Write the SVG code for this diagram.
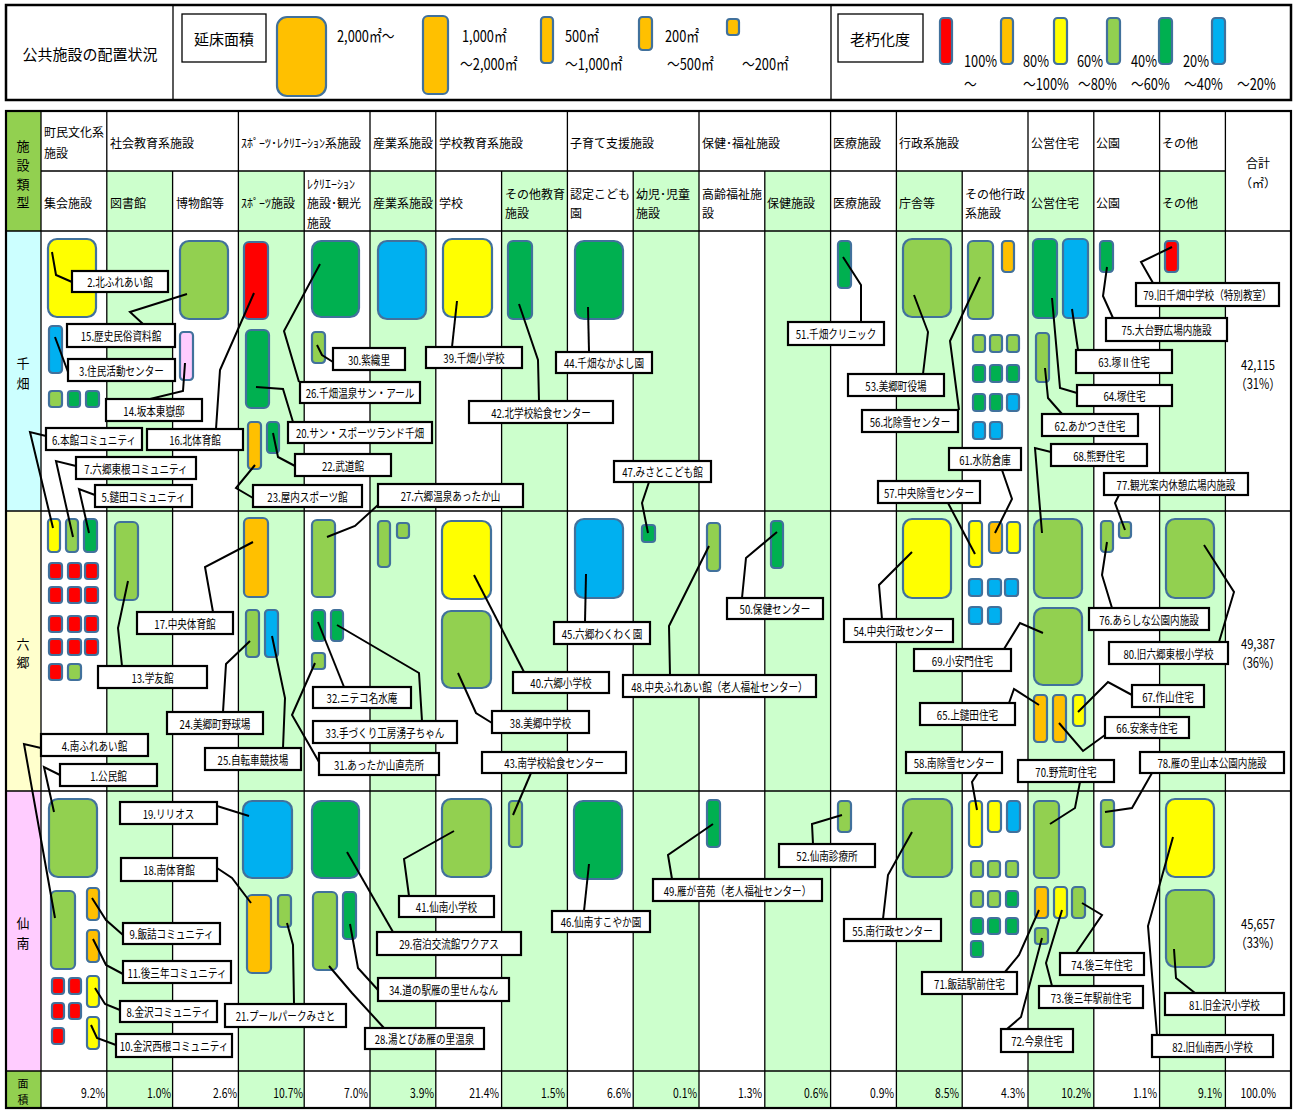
<svg xmlns="http://www.w3.org/2000/svg" width="1295" height="1111" viewBox="0 0 1295 1111">
<style>
text{font-family:"Noto Sans CJK JP","Noto Sans",sans-serif;fill:#000}
.t{font-size:12px;text-anchor:middle;dominant-baseline:central;transform:scaleX(.8);transform-box:fill-box;transform-origin:center}
.h{font-size:12px;dominant-baseline:central}
.hc{font-size:12px;text-anchor:middle;dominant-baseline:central}
.big{font-size:15px;text-anchor:middle;dominant-baseline:central}
.n{font-size:16px;dominant-baseline:central;transform:scaleX(.8);transform-box:fill-box;transform-origin:left center}
.pc{font-size:13px;text-anchor:end;dominant-baseline:central;transform:scaleX(.8);transform-box:fill-box;transform-origin:right center}
.tot{font-size:14px;text-anchor:middle;dominant-baseline:central;transform:scaleX(.8);transform-box:fill-box;transform-origin:center}
.half{font-feature-settings:"halt"}
.vt{font-size:13px;text-anchor:middle;dominant-baseline:central}
.blk{stroke:#41719c;stroke-width:2.2}
.r{fill:#ff0000}.o{fill:#ffc000}.y{fill:#ffff00}.lg{fill:#92d050}.dg{fill:#00b050}.b{fill:#00b0f0}.p{fill:#ffccff}
.box{fill:#fff;stroke:#000;stroke-width:2.2}
.thin{fill:#fff;stroke:#000;stroke-width:1.3}
.gl{stroke:#000;stroke-width:1.3;fill:none}
.gc{fill:#ccffcc}
#connectors polyline{fill:none;stroke:#000;stroke-width:2;stroke-linejoin:miter}
</style>

<!-- legend strip -->
<g id="legend">
<rect x="6" y="5" width="1285" height="95" fill="#fff" stroke="#000" stroke-width="2.5"/>
<line class="gl" x1="173" y1="5" x2="173" y2="100"/>
<line class="gl" x1="831" y1="5" x2="831" y2="100"/>
<text class="big" x="90" y="53">公共施設の配置状況</text>
<rect class="thin" x="182" y="14" width="84" height="48"/>
<text class="big" x="224" y="38">延床面積</text>
<rect class="o blk" x="277" y="17" width="49" height="79" rx="10"/>
<text class="n" x="337" y="35">2,000㎡～</text>
<rect class="o blk" x="423" y="16" width="25" height="78" rx="5"/>
<text class="n" x="462" y="35">1,000㎡</text>
<text class="n" x="460" y="63">～2,000㎡</text>
<rect class="o blk" x="541" y="17" width="12" height="46" rx="3.5"/>
<text class="n" x="565" y="35">500㎡</text>
<text class="n" x="565" y="63">～1,000㎡</text>
<rect class="o blk" x="639" y="17" width="13" height="33" rx="3.5"/>
<text class="n" x="665" y="35">200㎡</text>
<text class="n" x="667" y="63">～500㎡</text>
<rect class="o blk" x="727" y="19" width="12" height="16" rx="3"/>
<text class="n" x="742" y="63">～200㎡</text>
<rect class="thin" x="838" y="14" width="85" height="48"/>
<text class="big" x="880" y="38">老朽化度</text>
<rect class="r blk" x="940" y="18" width="12" height="46" rx="3.5"/>
<text class="n" x="964" y="60">100%</text>
<text class="n" x="964" y="83">～</text>
<rect class="o blk" x="1001" y="18" width="12" height="46" rx="3.5"/>
<text class="n" x="1023" y="60">80%</text>
<text class="n" x="1023" y="83">～100%</text>
<rect class="y blk" x="1054" y="18" width="13" height="46" rx="3.5"/>
<text class="n" x="1077" y="60">60%</text>
<text class="n" x="1078" y="83">～80%</text>
<rect class="lg blk" x="1107" y="18" width="13" height="46" rx="3.5"/>
<text class="n" x="1131" y="60">40%</text>
<text class="n" x="1131" y="83">～60%</text>
<rect class="dg blk" x="1159" y="18" width="13" height="46" rx="3.5"/>
<text class="n" x="1183" y="60">20%</text>
<text class="n" x="1184" y="83">～40%</text>
<rect class="b blk" x="1212" y="18" width="13" height="46" rx="3.5"/>
<text class="n" x="1237" y="83">～20%</text>
</g>

<!-- table body: backgrounds, grid, headings -->
<g id="table">
<rect x="6" y="111" width="1285" height="997" fill="#fff"/>
<rect class="gc" x="106.8" y="171" width="65.8" height="937"/>
<rect class="gc" x="238.4" y="171" width="65.8" height="937"/>
<rect class="gc" x="370" y="171" width="65.8" height="937"/>
<rect class="gc" x="501.6" y="171" width="65.8" height="937"/>
<rect class="gc" x="633.2" y="171" width="65.8" height="937"/>
<rect class="gc" x="764.8" y="171" width="65.8" height="937"/>
<rect class="gc" x="896.4" y="171" width="65.8" height="937"/>
<rect class="gc" x="1028" y="171" width="65.8" height="937"/>
<rect class="gc" x="1159.6" y="171" width="65.8" height="937"/>
<rect x="6" y="111" width="35" height="120" fill="#92d050"/>
<rect x="6" y="231" width="35" height="280" fill="#ccffff"/>
<rect x="6" y="511" width="35" height="280" fill="#ffffcc"/>
<rect x="6" y="791" width="35" height="280" fill="#ffccff"/>
<rect x="6" y="1071" width="35" height="37" fill="#92d050"/>
<path class="gl" d="M41 171H1225.4M6 231H1291M6 511H1291M6 791H1291M6 1071H1291
M41 111V1108M106.8 111V1108M238.4 111V1108M370 111V1108M435.8 111V1108M567.4 111V1108M699 111V1108M830.6 111V1108M896.4 111V1108M1028 111V1108M1093.8 111V1108M1159.6 111V1108M1225.4 111V1108
M172.6 171V1108M304.2 171V1108M501.6 171V1108M633.2 171V1108M764.8 171V1108M962.2 171V1108"/>
<rect x="6" y="111" width="1285" height="997" fill="none" stroke="#000" stroke-width="2.2"/>

<text class="vt" x="23" y="145">施</text>
<text class="vt" x="23" y="164">設</text>
<text class="vt" x="23" y="183">類</text>
<text class="vt" x="23" y="201">型</text>
<text class="vt" x="23" y="362">千</text>
<text class="vt" x="23" y="382">畑</text>
<text class="vt" x="23" y="643">六</text>
<text class="vt" x="23" y="661">郷</text>
<text class="vt" x="23" y="922">仙</text>
<text class="vt" x="23" y="942">南</text>
<text class="vt" x="23" y="1083" style="font-size:11px">面</text>
<text class="vt" x="23" y="1099" style="font-size:11px">積</text>

<text class="h" x="44" y="131">町民文化系</text>
<text class="h" x="44" y="152">施設</text>
<text class="h" x="110" y="142">社会教育系施設</text>
<text class="h" x="241" y="142">ｽﾎﾟｰﾂ･ﾚｸﾘｴｰｼｮﾝ系施設</text>
<text class="h" x="373" y="142">産業系施設</text>
<text class="h" x="439" y="142">学校教育系施設</text>
<text class="h" x="570" y="142">子育て支援施設</text>
<text class="h" x="702" y="142">保健･福祉施設</text>
<text class="h" x="833" y="142">医療施設</text>
<text class="h" x="899" y="142">行政系施設</text>
<text class="h" x="1031" y="142">公営住宅</text>
<text class="h" x="1096" y="142">公園</text>
<text class="h" x="1162" y="142">その他</text>
<text class="hc" x="1258" y="162">合計</text>
<text class="hc half" x="1258" y="182">（㎡）</text>

<text class="h" x="44" y="202">集会施設</text>
<text class="h" x="110" y="202">図書館</text>
<text class="h" x="176" y="202">博物館等</text>
<text class="h" x="241" y="202">ｽﾎﾟｰﾂ施設</text>
<text class="h" x="307" y="183">ﾚｸﾘｴｰｼｮﾝ</text>
<text class="h" x="307" y="202">施設･観光</text>
<text class="h" x="307" y="222">施設</text>
<text class="h" x="373" y="202">産業系施設</text>
<text class="h" x="439" y="202">学校</text>
<text class="h" x="505" y="193">その他教育</text>
<text class="h" x="505" y="212">施設</text>
<text class="h" x="570" y="193">認定こども</text>
<text class="h" x="570" y="212">園</text>
<text class="h" x="636" y="193">幼児･児童</text>
<text class="h" x="636" y="212">施設</text>
<text class="h" x="702" y="193">高齢福祉施</text>
<text class="h" x="702" y="212">設</text>
<text class="h" x="767" y="202">保健施設</text>
<text class="h" x="833" y="202">医療施設</text>
<text class="h" x="899" y="202">庁舎等</text>
<text class="h" x="965" y="193">その他行政</text>
<text class="h" x="965" y="212">系施設</text>
<text class="h" x="1031" y="202">公営住宅</text>
<text class="h" x="1096" y="202">公園</text>
<text class="h" x="1162" y="202">その他</text>

<text class="tot" x="1258" y="364">42,115</text>
<text class="tot half" x="1258" y="383">（31%）</text>
<text class="tot" x="1258" y="643">49,387</text>
<text class="tot half" x="1258" y="662">（36%）</text>
<text class="tot" x="1258" y="923">45,657</text>
<text class="tot half" x="1258" y="942">（33%）</text>

<text class="pc" x="105" y="1092">9.2%</text>
<text class="pc" x="171" y="1092">1.0%</text>
<text class="pc" x="237" y="1092">2.6%</text>
<text class="pc" x="303" y="1092">10.7%</text>
<text class="pc" x="368" y="1092">7.0%</text>
<text class="pc" x="434" y="1092">3.9%</text>
<text class="pc" x="499" y="1092">21.4%</text>
<text class="pc" x="565" y="1092">1.5%</text>
<text class="pc" x="631" y="1092">6.6%</text>
<text class="pc" x="697" y="1092">0.1%</text>
<text class="pc" x="762" y="1092">1.3%</text>
<text class="pc" x="828" y="1092">0.6%</text>
<text class="pc" x="894" y="1092">0.9%</text>
<text class="pc" x="959" y="1092">8.5%</text>
<text class="pc" x="1025" y="1092">4.3%</text>
<text class="pc" x="1091" y="1092">10.2%</text>
<text class="pc" x="1157" y="1092">1.1%</text>
<text class="pc" x="1222" y="1092">9.1%</text>
<text class="pc" x="1276" y="1092">100.0%</text>
</g>

<!-- facilities without a callout -->
<g id="unlabeled-blocks">
<rect class="lg blk" x="49" y="391" width="13" height="16" rx="3"/>
<rect class="dg blk" x="68" y="391" width="12" height="16" rx="3"/>
<rect class="dg blk" x="86" y="391" width="13" height="16" rx="3"/>
<rect class="b blk" x="378" y="241" width="48" height="78" rx="9"/>
<rect class="o blk" x="1002" y="241" width="12" height="31" rx="3.5"/>
<rect class="lg blk" x="973" y="335" width="12" height="17" rx="3"/>
<rect class="lg blk" x="990" y="335" width="12" height="17" rx="3"/>
<rect class="lg blk" x="1007" y="335" width="12" height="17" rx="3"/>
<rect class="dg blk" x="973" y="365" width="12" height="17" rx="3"/>
<rect class="dg blk" x="990" y="365" width="12" height="17" rx="3"/>
<rect class="dg blk" x="1007" y="365" width="12" height="17" rx="3"/>
<rect class="dg blk" x="973" y="394" width="12" height="17" rx="3"/>
<rect class="dg blk" x="990" y="394" width="12" height="17" rx="3"/>
<rect class="b blk" x="1007" y="394" width="12" height="17" rx="3"/>
<rect class="b blk" x="973" y="422" width="12" height="17" rx="3"/>
<rect class="b blk" x="990" y="422" width="12" height="17" rx="3"/>

<rect class="r blk" x="49" y="563" width="13" height="16" rx="3"/>
<rect class="r blk" x="68" y="563" width="13" height="16" rx="3"/>
<rect class="r blk" x="85" y="563" width="13" height="16" rx="3"/>
<rect class="r blk" x="49" y="587" width="13" height="16" rx="3"/>
<rect class="r blk" x="68" y="587" width="13" height="16" rx="3"/>
<rect class="r blk" x="85" y="587" width="13" height="16" rx="3"/>
<rect class="r blk" x="49" y="616" width="13" height="16" rx="3"/>
<rect class="r blk" x="68" y="616" width="13" height="16" rx="3"/>
<rect class="r blk" x="85" y="616" width="13" height="16" rx="3"/>
<rect class="r blk" x="49" y="639" width="13" height="16" rx="3"/>
<rect class="r blk" x="68" y="639" width="13" height="16" rx="3"/>
<rect class="r blk" x="85" y="639" width="13" height="16" rx="3"/>
<rect class="r blk" x="49" y="664" width="13" height="16" rx="3"/>
<rect class="lg blk" x="68" y="664" width="13" height="16" rx="3"/>
<rect class="lg blk" x="378" y="521" width="12" height="46" rx="3.5"/>
<rect class="lg blk" x="397" y="523" width="12" height="15" rx="3"/>
<rect class="y blk" x="1007" y="522" width="13" height="31" rx="3.5"/>
<rect class="b blk" x="969" y="579" width="13" height="17" rx="3"/>
<rect class="b blk" x="988" y="579" width="13" height="17" rx="3"/>
<rect class="b blk" x="1005" y="579" width="13" height="17" rx="3"/>
<rect class="b blk" x="969" y="607" width="13" height="17" rx="3"/>
<rect class="b blk" x="988" y="607" width="13" height="17" rx="3"/>

<rect class="r blk" x="52" y="978" width="12" height="16" rx="3"/>
<rect class="r blk" x="69" y="978" width="12" height="16" rx="3"/>
<rect class="r blk" x="52" y="1003" width="12" height="16" rx="3"/>
<rect class="r blk" x="69" y="1003" width="12" height="16" rx="3"/>
<rect class="r blk" x="52" y="1028" width="12" height="16" rx="3"/>
<rect class="y blk" x="988" y="801" width="13" height="31" rx="3.5"/>
<rect class="b blk" x="1007" y="801" width="13" height="31" rx="3.5"/>
<rect class="lg blk" x="971" y="861" width="12" height="16" rx="3"/>
<rect class="lg blk" x="988" y="861" width="12" height="16" rx="3"/>
<rect class="lg blk" x="1006" y="861" width="12" height="16" rx="3"/>
<rect class="lg blk" x="971" y="891" width="12" height="16" rx="3"/>
<rect class="lg blk" x="988" y="891" width="12" height="16" rx="3"/>
<rect class="dg blk" x="1006" y="891" width="12" height="16" rx="3"/>
<rect class="dg blk" x="971" y="918" width="12" height="16" rx="3"/>
<rect class="dg blk" x="988" y="918" width="12" height="16" rx="3"/>
<rect class="dg blk" x="1006" y="918" width="12" height="16" rx="3"/>
<rect class="dg blk" x="971" y="941" width="12" height="16" rx="3"/>
</g>

<!-- facility nodes: block + callout box -->
<g id="nodes">
<g id="n01"><rect class="lg blk" x="49" y="799" width="48" height="78" rx="9"/><rect class="box" x="60" y="764" width="97" height="22"/><text class="t" x="108.5" y="775">1.公民館</text></g>
<g id="n02"><rect class="y blk" x="48" y="239" width="48" height="78" rx="9"/><rect class="box" x="72" y="271" width="96" height="21"/><text class="t" x="120" y="281.5">2.北ふれあい館</text></g>
<g id="n03"><rect class="b blk" x="49" y="326" width="13" height="47" rx="3.5"/><rect class="box" x="68" y="359" width="107" height="22"/><text class="t" x="121.5" y="370">3.住民活動センター</text></g>
<g id="n04"><rect class="lg blk" x="51" y="891" width="24" height="78" rx="5"/><rect class="box" x="41" y="734" width="107" height="22"/><text class="t" x="94.5" y="745">4.南ふれあい館</text></g>
<g id="n05"><rect class="dg blk" x="84" y="519" width="13" height="33" rx="3.5"/><rect class="box" x="95" y="485" width="97" height="22"/><text class="t" x="143.5" y="496">5.鑓田コミュニティ</text></g>
<g id="n06"><rect class="y blk" x="48" y="519" width="12" height="33" rx="3.5"/><rect class="box" x="46" y="428" width="96" height="22"/><text class="t" x="94" y="439">6.本館コミュニティ</text></g>
<g id="n07"><rect class="lg blk" x="66" y="519" width="12" height="33" rx="3.5"/><rect class="box" x="76" y="457" width="120" height="22"/><text class="t" x="136" y="468">7.六郷東根コミュニティ</text></g>
<g id="n08"><rect class="y blk" x="87" y="976" width="12" height="31" rx="3.5"/><rect class="box" x="120" y="1001" width="97" height="21"/><text class="t" x="168.5" y="1011.5">8.金沢コミュニティ</text></g>
<g id="n09"><rect class="o blk" x="87" y="888" width="12" height="32" rx="3.5"/><rect class="box" x="123" y="923" width="97" height="21"/><text class="t" x="171.5" y="933.5">9.飯詰コミュニティ</text></g>
<g id="n10"><rect class="y blk" x="87" y="1017" width="12" height="32" rx="3.5"/><rect class="box" x="116" y="1034" width="116" height="23"/><text class="t" x="174" y="1045.5">10.金沢西根コミュニティ</text></g>
<g id="n11"><rect class="o blk" x="87" y="930" width="12" height="32" rx="3.5"/><rect class="box" x="123" y="961" width="108" height="22"/><text class="t" x="177" y="972">11.後三年コミュニティ</text></g>
<g id="n13"><rect class="lg blk" x="115" y="522" width="23" height="78" rx="5"/><rect class="box" x="98" y="666" width="109" height="22"/><text class="t" x="152.5" y="677">13.学友館</text></g>
<g id="n14"><rect class="p blk" x="180" y="332" width="13" height="48" rx="3.5"/><rect class="box" x="106" y="399" width="96" height="22"/><text class="t" x="154" y="410">14.坂本東嶽邸</text></g>
<g id="n15"><rect class="lg blk" x="180" y="241" width="48" height="78" rx="9"/><rect class="box" x="67" y="324" width="108" height="23"/><text class="t" x="121" y="335.5">15.歴史民俗資料館</text></g>
<g id="n16"><rect class="r blk" x="244" y="242" width="24" height="77" rx="5"/><rect class="box" x="147" y="429" width="96" height="21"/><text class="t" x="195" y="439.5">16.北体育館</text></g>
<g id="n17"><rect class="o blk" x="244" y="518" width="24" height="79" rx="5"/><rect class="box" x="137" y="612" width="96" height="22"/><text class="t" x="185" y="623">17.中央体育館</text></g>
<g id="n18"><rect class="o blk" x="247" y="895" width="24" height="78" rx="5"/><rect class="box" x="121" y="858" width="96" height="23"/><text class="t" x="169" y="869.5">18.南体育館</text></g>
<g id="n19"><rect class="b blk" x="243" y="801" width="49" height="77" rx="9"/><rect class="box" x="120" y="802" width="97" height="22"/><text class="t" x="168.5" y="813">19.リリオス</text></g>
<g id="n20"><rect class="dg blk" x="246" y="330" width="23" height="78" rx="5"/><rect class="box" x="288" y="422" width="144" height="21"/><text class="t" x="360" y="432.5">20.サン・スポーツランド千畑</text></g>
<g id="n21"><rect class="lg blk" x="278" y="895" width="13" height="32" rx="3.5"/><rect class="box" x="225" y="1004" width="121" height="23"/><text class="t" x="285.5" y="1015.5">21.プールパークみさと</text></g>
<g id="n22"><rect class="dg blk" x="267" y="422" width="12" height="31" rx="3.5"/><rect class="box" x="295" y="454" width="96" height="22"/><text class="t" x="343" y="465">22.武道館</text></g>
<g id="n23"><rect class="o blk" x="248" y="422" width="13" height="47" rx="3.5"/><rect class="box" x="253" y="485" width="109" height="22"/><text class="t" x="307.5" y="496">23.屋内スポーツ館</text></g>
<g id="n24"><rect class="lg blk" x="246" y="610" width="13" height="47" rx="3.5"/><rect class="box" x="167" y="712" width="96" height="22"/><text class="t" x="215" y="723">24.美郷町野球場</text></g>
<g id="n25"><rect class="b blk" x="265" y="610" width="13" height="47" rx="3.5"/><rect class="box" x="205" y="748" width="96" height="22"/><text class="t" x="253" y="759">25.自転車競技場</text></g>
<g id="n26"><rect class="dg blk" x="312" y="241" width="47" height="76" rx="9"/><rect class="box" x="300" y="382" width="120" height="21"/><text class="t" x="360" y="392.5">26.千畑温泉サン・アール</text></g>
<g id="n27"><rect class="lg blk" x="312" y="520" width="23" height="77" rx="5"/><rect class="box" x="378" y="484" width="145" height="23"/><text class="t" x="450.5" y="495.5">27.六郷温泉あったか山</text></g>
<g id="n28"><rect class="lg blk" x="313" y="892" width="24" height="78" rx="5"/><rect class="box" x="365" y="1028" width="119" height="21"/><text class="t" x="424.5" y="1038.5">28.湯とぴあ雁の里温泉</text></g>
<g id="n29"><rect class="dg blk" x="312" y="801" width="47" height="77" rx="9"/><rect class="box" x="377" y="932" width="144" height="23"/><text class="t" x="449" y="943.5">29.宿泊交流館ワクアス</text></g>
<g id="n30"><rect class="lg blk" x="312" y="332" width="13" height="31" rx="3.5"/><rect class="box" x="333" y="348" width="72" height="22"/><text class="t" x="369" y="359">30.紫織里</text></g>
<g id="n31"><rect class="lg blk" x="312" y="653" width="13" height="16" rx="3"/><rect class="box" x="319" y="753" width="120" height="22"/><text class="t" x="379" y="764">31.あったか山直売所</text></g>
<g id="n32"><rect class="dg blk" x="312" y="610" width="13" height="31" rx="3.5"/><rect class="box" x="313" y="687" width="98" height="21"/><text class="t" x="362" y="697.5">32.ニテコ名水庵</text></g>
<g id="n33"><rect class="dg blk" x="331" y="610" width="12" height="31" rx="3.5"/><rect class="box" x="313" y="721" width="144" height="22"/><text class="t" x="385" y="732">33.手づくり工房湧子ちゃん</text></g>
<g id="n34"><rect class="dg blk" x="343" y="892" width="13" height="47" rx="3.5"/><rect class="box" x="378" y="978" width="131" height="23"/><text class="t" x="443.5" y="989.5">34.道の駅雁の里せんなん</text></g>
<g id="n38"><rect class="lg blk" x="442" y="611" width="49" height="77" rx="9"/><rect class="box" x="492" y="711" width="97" height="22"/><text class="t" x="540.5" y="722">38.美郷中学校</text></g>
<g id="n39"><rect class="y blk" x="443" y="239" width="49" height="78" rx="9"/><rect class="box" x="426" y="347" width="96" height="21"/><text class="t" x="474" y="357.5">39.千畑小学校</text></g>
<g id="n40"><rect class="y blk" x="442" y="521" width="49" height="78" rx="9"/><rect class="box" x="513" y="672" width="96" height="21"/><text class="t" x="561" y="682.5">40.六郷小学校</text></g>
<g id="n41"><rect class="lg blk" x="442" y="799" width="49" height="78" rx="9"/><rect class="box" x="399" y="896" width="95" height="21"/><text class="t" x="446.5" y="906.5">41.仙南小学校</text></g>
<g id="n42"><rect class="dg blk" x="508" y="241" width="24" height="78" rx="5"/><rect class="box" x="469" y="401" width="144" height="22"/><text class="t" x="541" y="412">42.北学校給食センター</text></g>
<g id="n43"><rect class="lg blk" x="509" y="801" width="13" height="46" rx="3.5"/><rect class="box" x="482" y="752" width="144" height="21"/><text class="t" x="554" y="762.5">43.南学校給食センター</text></g>
<g id="n44"><rect class="dg blk" x="575" y="241" width="48" height="78" rx="9"/><rect class="box" x="556" y="352" width="96" height="21"/><text class="t" x="604" y="362.5">44.千畑なかよし園</text></g>
<g id="n45"><rect class="b blk" x="575" y="519" width="48" height="79" rx="9"/><rect class="box" x="554" y="622" width="96" height="22"/><text class="t" x="602" y="633">45.六郷わくわく園</text></g>
<g id="n46"><rect class="dg blk" x="574" y="801" width="48" height="78" rx="9"/><rect class="box" x="552" y="911" width="98" height="21"/><text class="t" x="601" y="921.5">46.仙南すこやか園</text></g>
<g id="n47"><rect class="dg blk" x="642" y="525" width="13" height="17" rx="3"/><rect class="box" x="614" y="461" width="97" height="21"/><text class="t" x="662.5" y="471.5">47.みさとこども館</text></g>
<g id="n48"><rect class="lg blk" x="707" y="523" width="13" height="48" rx="3.5"/><rect class="box" x="623" y="675" width="193" height="22"/><text class="t" x="719.5" y="686">48.中央ふれあい館（老人福祉センター）</text></g>
<g id="n49"><rect class="dg blk" x="707" y="800" width="13" height="47" rx="3.5"/><rect class="box" x="653" y="879" width="169" height="22"/><text class="t" x="737.5" y="890">49.雁が音苑（老人福祉センター）</text></g>
<g id="n50"><rect class="dg blk" x="771" y="521" width="12" height="47" rx="3.5"/><rect class="box" x="727" y="598" width="96" height="21"/><text class="t" x="775" y="608.5">50.保健センター</text></g>
<g id="n51"><rect class="dg blk" x="838" y="241" width="13" height="47" rx="3.5"/><rect class="box" x="788" y="322" width="96" height="23"/><text class="t" x="836" y="333.5">51.千畑クリニック</text></g>
<g id="n52"><rect class="lg blk" x="838" y="801" width="13" height="31" rx="3.5"/><rect class="box" x="779" y="844" width="96" height="23"/><text class="t" x="827" y="855.5">52.仙南診療所</text></g>
<g id="n53"><rect class="lg blk" x="903" y="239" width="48" height="78" rx="9"/><rect class="box" x="848" y="374" width="96" height="22"/><text class="t" x="896" y="385">53.美郷町役場</text></g>
<g id="n54"><rect class="y blk" x="903" y="519" width="48" height="79" rx="9"/><rect class="box" x="844" y="619" width="109" height="23"/><text class="t" x="898.5" y="630.5">54.中央行政センター</text></g>
<g id="n55"><rect class="lg blk" x="903" y="799" width="49" height="78" rx="9"/><rect class="box" x="844" y="919" width="97" height="22"/><text class="t" x="892.5" y="930">55.南行政センター</text></g>
<g id="n56"><rect class="lg blk" x="968" y="241" width="25" height="78" rx="5"/><rect class="box" x="862" y="410" width="96" height="22"/><text class="t" x="910" y="421">56.北除雪センター</text></g>
<g id="n57"><rect class="y blk" x="969" y="521" width="13" height="46" rx="3.5"/><rect class="box" x="878" y="481" width="102" height="22"/><text class="t" x="929" y="492">57.中央除雪センター</text></g>
<g id="n58"><rect class="y blk" x="969" y="801" width="13" height="46" rx="3.5"/><rect class="box" x="906" y="752" width="96" height="21"/><text class="t" x="954" y="762.5">58.南除雪センター</text></g>
<g id="n61"><rect class="o blk" x="989" y="522" width="13" height="31" rx="3.5"/><rect class="box" x="949" y="448" width="72" height="22"/><text class="t" x="985" y="459">61.水防倉庫</text></g>
<g id="n62"><rect class="lg blk" x="1036" y="333" width="13" height="49" rx="3.5"/><rect class="box" x="1042" y="414" width="96" height="22"/><text class="t" x="1090" y="425">62.あかつき住宅</text></g>
<g id="n63"><rect class="b blk" x="1063" y="239" width="25" height="79" rx="5"/><rect class="box" x="1076" y="350" width="96" height="23"/><text class="t" x="1124" y="361.5">63.塚Ⅱ住宅</text></g>
<g id="n64"><rect class="dg blk" x="1033" y="239" width="24" height="79" rx="5"/><rect class="box" x="1077" y="385" width="95" height="21"/><text class="t" x="1124.5" y="395.5">64.塚住宅</text></g>
<g id="n65"><rect class="o blk" x="1034" y="695" width="13" height="47" rx="3.5"/><rect class="box" x="920" y="703" width="95" height="22"/><text class="t" x="967.5" y="714">65.上鑓田住宅</text></g>
<g id="n66"><rect class="o blk" x="1053" y="695" width="13" height="47" rx="3.5"/><rect class="box" x="1105" y="717" width="84" height="21"/><text class="t" x="1147" y="727.5">66.安楽寺住宅</text></g>
<g id="n67"><rect class="y blk" x="1073" y="695" width="12" height="31" rx="3.5"/><rect class="box" x="1132" y="685" width="72" height="22"/><text class="t" x="1168" y="696">67.作山住宅</text></g>
<g id="n68"><rect class="lg blk" x="1034" y="519" width="48" height="79" rx="9"/><rect class="box" x="1051" y="444" width="96" height="22"/><text class="t" x="1099" y="455">68.熊野住宅</text></g>
<g id="n69"><rect class="lg blk" x="1034" y="608" width="48" height="77" rx="9"/><rect class="box" x="914" y="649" width="97" height="22"/><text class="t" x="962.5" y="660">69.小安門住宅</text></g>
<g id="n70"><rect class="lg blk" x="1034" y="801" width="25" height="77" rx="5"/><rect class="box" x="1018" y="760" width="96" height="22"/><text class="t" x="1066" y="771">70.野荒町住宅</text></g>
<g id="n71"><rect class="o blk" x="1035" y="887" width="13" height="31" rx="3.5"/><rect class="box" x="922" y="972" width="95" height="22"/><text class="t" x="969.5" y="983">71.飯詰駅前住宅</text></g>
<g id="n72"><rect class="lg blk" x="1035" y="928" width="13" height="16" rx="3"/><rect class="box" x="1001" y="1029" width="72" height="23"/><text class="t" x="1037" y="1040.5">72.今泉住宅</text></g>
<g id="n73"><rect class="y blk" x="1054" y="887" width="13" height="31" rx="3.5"/><rect class="box" x="1039" y="986" width="104" height="22"/><text class="t" x="1091" y="997">73.後三年駅前住宅</text></g>
<g id="n74"><rect class="lg blk" x="1072" y="887" width="13" height="31" rx="3.5"/><rect class="box" x="1060" y="953" width="84" height="22"/><text class="t" x="1102" y="964">74.後三年住宅</text></g>
<g id="n75"><rect class="dg blk" x="1100" y="241" width="13" height="31" rx="3.5"/><rect class="box" x="1106" y="318" width="121" height="23"/><text class="t" x="1166.5" y="329.5">75.大台野広場内施設</text></g>
<g id="n76"><rect class="lg blk" x="1101" y="521" width="12" height="31" rx="3.5"/><rect class="box" x="1089" y="608" width="120" height="22"/><text class="t" x="1149" y="619">76.あらしな公園内施設</text></g>
<g id="n77"><rect class="lg blk" x="1119" y="522" width="12" height="16" rx="3"/><rect class="box" x="1104" y="473" width="144" height="22"/><text class="t" x="1176" y="484">77.観光案内休憩広場内施設</text></g>
<g id="n78"><rect class="lg blk" x="1101" y="800" width="13" height="47" rx="3.5"/><rect class="box" x="1140" y="752" width="144" height="21"/><text class="t" x="1212" y="762.5">78.雁の里山本公園内施設</text></g>
<g id="n79"><rect class="r blk" x="1165" y="241" width="13" height="31" rx="3.5"/><rect class="box" x="1136" y="283" width="143" height="23"/><text class="t" x="1207.5" y="294.5">79.旧千畑中学校（特別教室）</text></g>
<g id="n80"><rect class="lg blk" x="1166" y="519" width="48" height="79" rx="9"/><rect class="box" x="1109" y="642" width="119" height="22"/><text class="t" x="1168.5" y="653">80.旧六郷東根小学校</text></g>
<g id="n81"><rect class="lg blk" x="1166" y="890" width="48" height="77" rx="9"/><rect class="box" x="1165" y="993" width="119" height="22"/><text class="t" x="1224.5" y="1004">81.旧金沢小学校</text></g>
<g id="n82"><rect class="y blk" x="1166" y="799" width="48" height="78" rx="9"/><rect class="box" x="1152" y="1035" width="121" height="22"/><text class="t" x="1212.5" y="1046">82.旧仙南西小学校</text></g>
</g>

<!-- callout leader lines -->
<g id="connectors">
<polyline points="54,812 44,767 60,775"/>
<polyline points="52,252 56,275 72,282"/>
<polyline points="55,337 68,372"/>
<polyline points="55,918 24,744 41,748"/>
<polyline points="89,533 79,489 95,495"/>
<polyline points="53,528 30,432 46,436"/>
<polyline points="73,537 56,461 76,466"/>
<polyline points="95,988 105,1004 120,1010"/>
<polyline points="92,898 106,920 123,935"/>
<polyline points="91,1025 97,1038 116,1045"/>
<polyline points="93,939 106,965 123,974"/>
<polyline points="128,581 118,628 122,666"/>
<polyline points="185,363 183,391 150,399"/>
<polyline points="187,294 130,312 143,324"/>
<polyline points="254,293 220,370 216,429"/>
<polyline points="253,542 205,567 213,612"/>
<polyline points="251,903 232,878 217,868"/>
<polyline points="249,816 217,806"/>
<polyline points="256,387 283,389 293,422"/>
<polyline points="287,923 293,945 294,1004"/>
<polyline points="273,433 278,457 295,466"/>
<polyline points="255,465 236,488 253,498"/>
<polyline points="250,641 226,664 223,712"/>
<polyline points="272,636 285,698 283,748"/>
<polyline points="320,264 284,331 299,382"/>
<polyline points="327,537 355,526 378,505"/>
<polyline points="329,966 352,993 384,1028"/>
<polyline points="347,852 393,932"/>
<polyline points="317,345 322,355 333,362"/>
<polyline points="315,663 292,715 319,762"/>
<polyline points="318,622 344,687"/>
<polyline points="337,625 419,673 422,721"/>
<polyline points="350,924 358,968 378,990"/>
<polyline points="458,673 476,713 492,723"/>
<polyline points="457,301 452,347"/>
<polyline points="474,575 524,672"/>
<polyline points="454,831 404,859 409,896"/>
<polyline points="519,304 538,360 539,401"/>
<polyline points="513,815 531,773"/>
<polyline points="588,307 589,352"/>
<polyline points="586,574 585,622"/>
<polyline points="589,864 584,911"/>
<polyline points="648,533 642,503 649,482"/>
<polyline points="709,546 669,626 670,675"/>
<polyline points="713,824 668,855 672,879"/>
<polyline points="777,532 746,558 742,598"/>
<polyline points="843,257 861,285 861,322"/>
<polyline points="842,815 812,824 813,844"/>
<polyline points="914,295 928,332 923,374"/>
<polyline points="912,552 879,585 882,619"/>
<polyline points="912,832 888,875 883,919"/>
<polyline points="980,277 950,341 959,410"/>
<polyline points="948,503 975,554"/>
<polyline points="978,773 972,782 977,810"/>
<polyline points="1002,470 1012,499 995,533"/>
<polyline points="1045,368 1048,398 1062,414"/>
<polyline points="1072,309 1078,350"/>
<polyline points="1052,298 1060,388 1077,393"/>
<polyline points="1039,705 1014,689 1009,703"/>
<polyline points="1059,723 1083,751 1105,735"/>
<polyline points="1078,712 1108,682 1132,695"/>
<polyline points="1042,533 1035,448 1051,452"/>
<polyline points="1043,633 1020,623 1004,649"/>
<polyline points="1050,824 1075,808 1080,782"/>
<polyline points="1039,910 1019,955 1005,972"/>
<polyline points="1042,938 1021,1017 1007,1029"/>
<polyline points="1062,910 1046,963 1052,986"/>
<polyline points="1082,903 1102,915 1076,953"/>
<polyline points="1107,267 1103,296 1113,318"/>
<polyline points="1107,542 1102,575 1112,608"/>
<polyline points="1125,530 1115,503 1119,495"/>
<polyline points="1105,812 1132,808 1152,773"/>
<polyline points="1172,247 1141,262 1153,283"/>
<polyline points="1204,545 1234,592 1219,642"/>
<polyline points="1174,949 1176,978 1195,993"/>
<polyline points="1173,837 1148,926 1157,1035"/>
</g>
</svg>
